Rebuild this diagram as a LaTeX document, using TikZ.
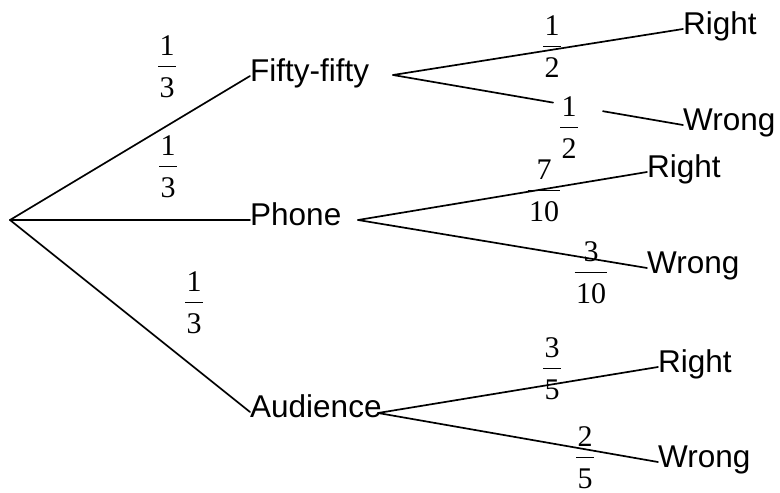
\documentclass[tikz,border=0pt]{standalone}
\usepackage{fontspec}
\setmainfont{Liberation Sans}
\newfontfamily\serifnum{Liberation Serif}
\usetikzlibrary{calc}
\setlength{\arrayrulewidth}{1.4pt}
\newcommand{\probfrac}[2]{{\serifnum\fontsize{30}{34}\selectfont\renewcommand\arraystretch{0.3}%
\begin{tabular}{@{\hspace{1.3pt}}c@{\hspace{1.3pt}}}\rule[-10pt]{0pt}{32pt}#1\\\hline\rule[-2pt]{0pt}{32pt}#2\end{tabular}}}
\tikzset{
  lbl/.style={anchor=west, inner sep=0pt, font=\fontsize{31.5}{36}\selectfont, text height=20pt, text depth=10pt},
  prob/.style={inner sep=0pt},
  edge/.style={line width=1.7pt, line cap=round}
}
\begin{document}
\begin{tikzpicture}[x=1pt,y=-1pt]
\useasboundingbox (0,0) rectangle (780,493);
% first level
\coordinate (root) at (10,220);
\node[lbl] (ff) at (250,76) {Fifty-fifty};
\node[lbl] (ph) at (250,220) {Phone};
\node[lbl] (au) at (250,412) {Audience};
% branch origins
\coordinate (ffo) at (393,75);
\coordinate (pho) at (358,220);
\coordinate (auo) at (378,413);
% second level
\node[lbl] (r1) at (683,29) {Right};
\node[lbl] (w1) at (683,125) {Wrong};
\node[lbl] (r2) at (647,172) {Right};
\node[lbl] (w2) at (647,268) {Wrong};
\node[lbl] (r3) at (658,367) {Right};
\node[lbl] (w3) at (658,462) {Wrong};
% connectors
\draw[edge] (root) -- (ff.west);
\draw[edge] (root) -- (ph.west);
\draw[edge] (root) -- (au.west);
\draw[edge] (ffo) -- (r1.west);
\draw[edge] (ffo) -- ($(ffo)!0.552!(w1.west)$);
\draw[edge] ($(ffo)!0.724!(w1.west)$) -- (w1.west);
\draw[edge] (pho) -- (r2.west);
\draw[edge] (pho) -- (w2.west);
\draw[edge] (auo) -- (r3.west);
\draw[edge] (auo) -- (w3.west);
% probabilities
\node[prob] (p1) at (167,67) {\probfrac{1}{3}};
\node[prob] (p2) at (168,167) {\probfrac{1}{3}};
\node[prob] (p3) at (194,303) {\probfrac{1}{3}};
\node[prob] (p4) at (552,47) {\probfrac{1}{2}};
\node[prob] (p5) at (569,128) {\probfrac{1}{2}};
\node[prob] (p6) at (544,191) {\probfrac{7}{10}};
\node[prob] (p7) at (591,273) {\probfrac{3}{10}};
\node[prob] (p8) at (552,369) {\probfrac{3}{5}};
\node[prob] (p9) at (585,458) {\probfrac{2}{5}};
\end{tikzpicture}
\end{document}
